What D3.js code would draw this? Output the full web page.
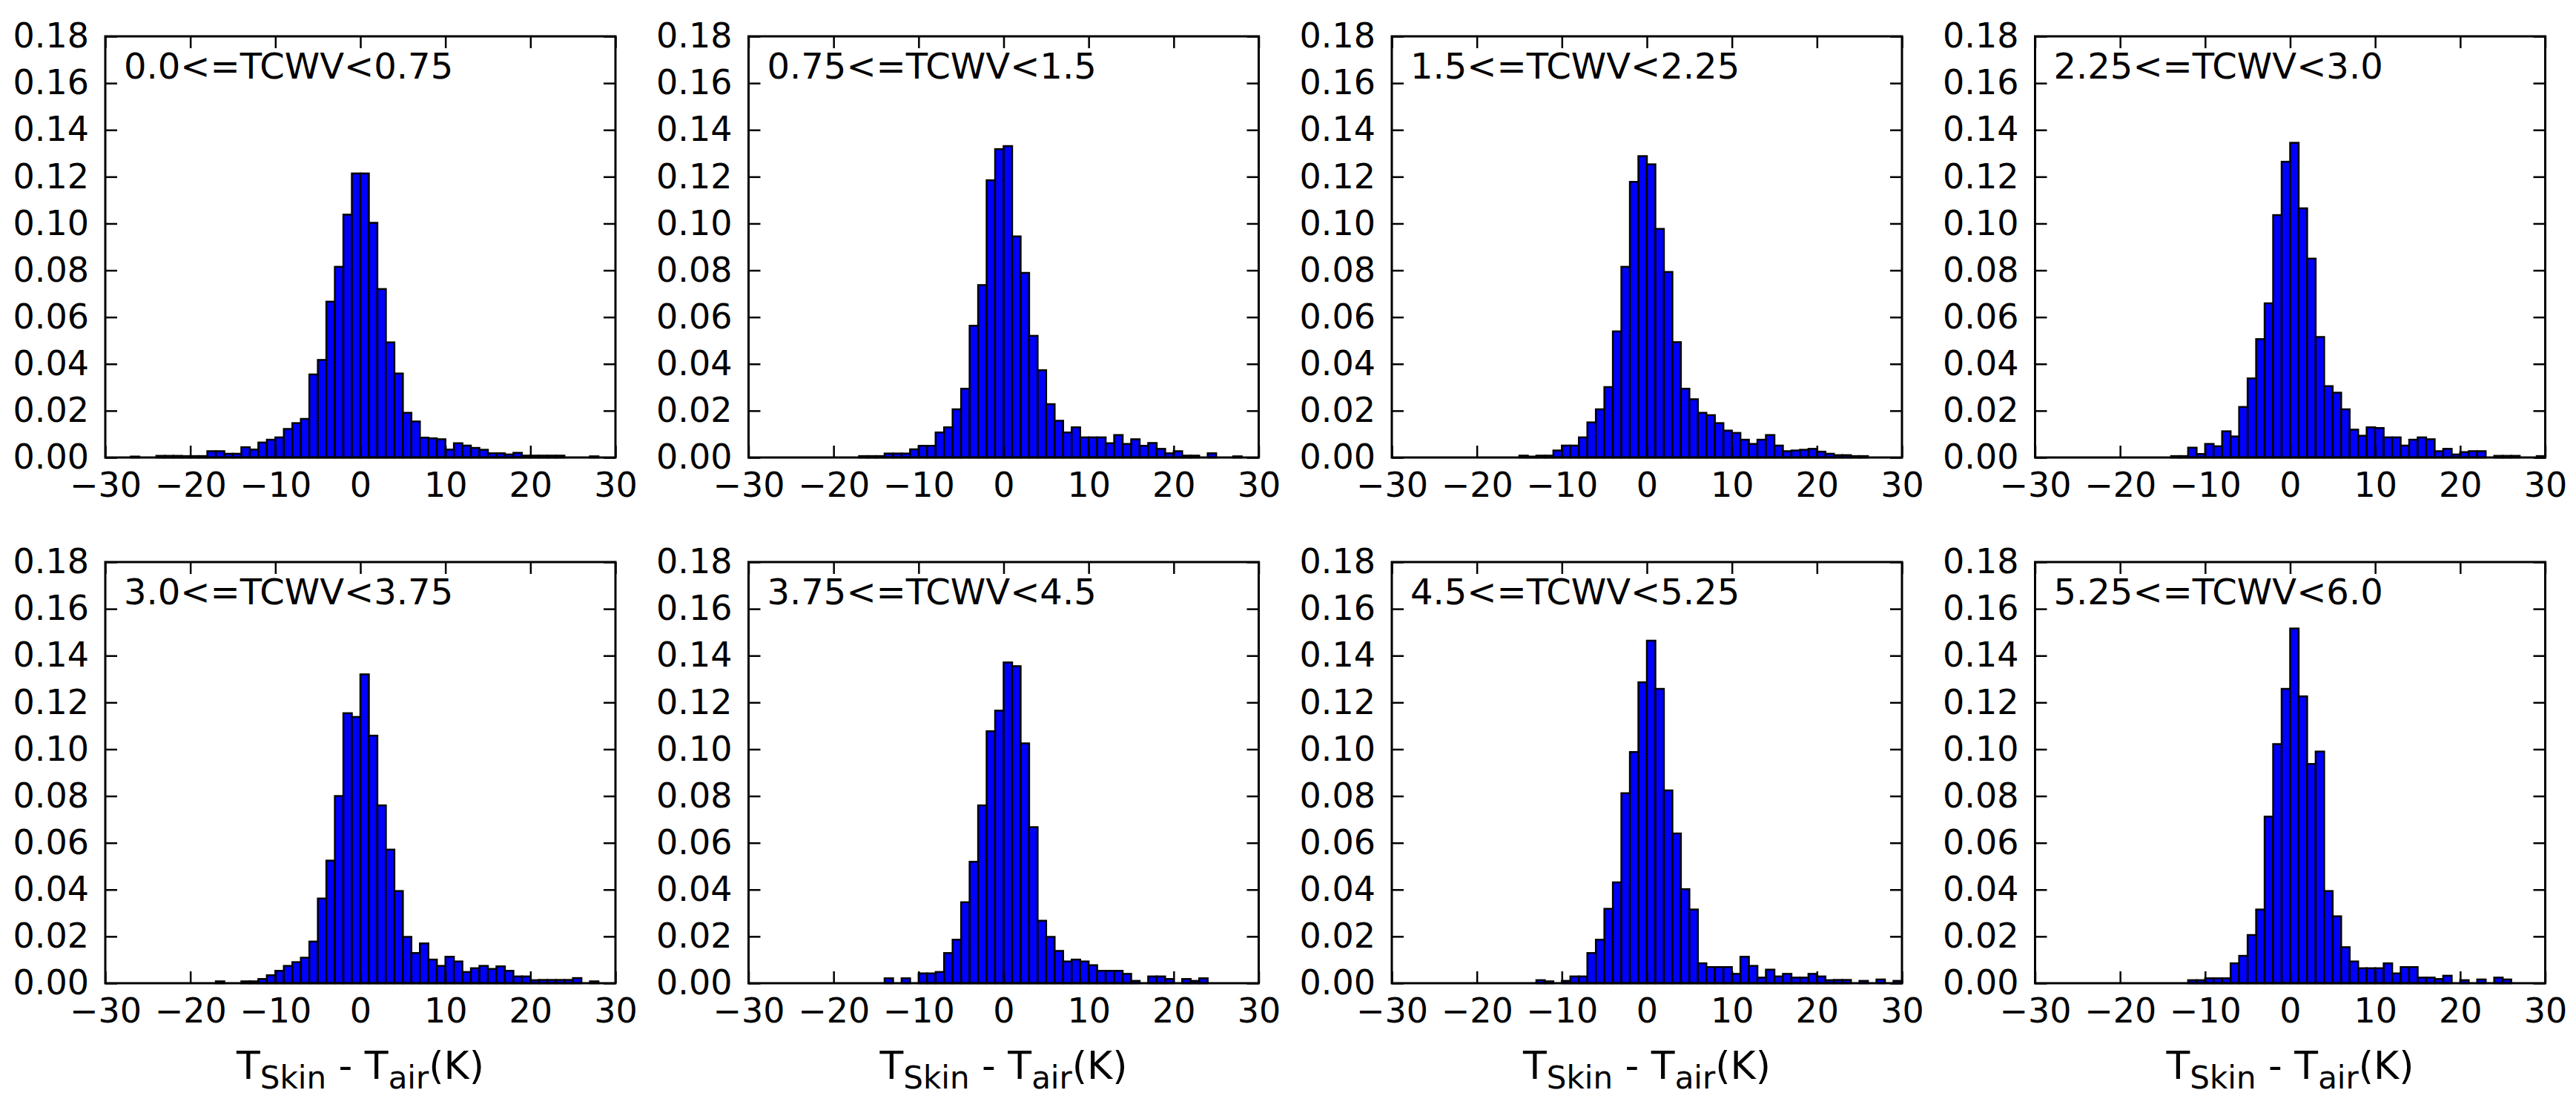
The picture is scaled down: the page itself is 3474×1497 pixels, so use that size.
<!DOCTYPE html>
<html>
<head>
<meta charset="utf-8">
<script src="https://cdn.jsdelivr.net/npm/d3@7"></script>
<style>
  html, body { margin: 0; padding: 0; background: #fff; }
  svg { display: block; }
</style>
</head>
<body>
<div id="chart"></div>
<script>
// histogram densities, one value per 1 K bin, bins start at -30 ... 29
const binLeft = d3.range(-30, 30);

const tcwv_0_075 = [
  0, 0, 0, 0.0004, 0, 0, 0.0007, 0.0007, 0.0007, 0.0006,
  0.0006, 0.0006, 0.0027, 0.0027, 0.0016, 0.0016, 0.0044, 0.0034, 0.0064, 0.0076,
  0.0086, 0.0122, 0.0147, 0.0165, 0.0355, 0.0417, 0.0666, 0.0815, 0.1038, 0.1214,
  0.1214, 0.1003, 0.0720, 0.0492, 0.0359, 0.0191, 0.0154, 0.0085, 0.0082, 0.0078,
  0.0034, 0.0061, 0.0051, 0.0041, 0.0033, 0.0018, 0.0018, 0.0013, 0.0020, 0.0008,
  0.0008, 0.0008, 0.0008, 0.0008, 0, 0, 0, 0.0005, 0, 0
];
const tcwv_075_15 = [
  0, 0, 0, 0, 0, 0, 0, 0, 0, 0,
  0, 0, 0, 0.0006, 0.0006, 0.0006, 0.0017, 0.0017, 0.0017, 0.0035,
  0.0050, 0.0050, 0.0107, 0.0129, 0.0206, 0.0294, 0.0563, 0.0737, 0.1185, 0.1318,
  0.1331, 0.0945, 0.0789, 0.0520, 0.0373, 0.0228, 0.0157, 0.0107, 0.0129, 0.0086,
  0.0086, 0.0086, 0.0061, 0.0096, 0.0058, 0.0078, 0.0050, 0.0062, 0.0037, 0.0018,
  0.0027, 0.0008, 0.0008, 0, 0.0018, 0, 0, 0.0005, 0, 0
];
const tcwv_15_225 = [
  0, 0, 0, 0, 0, 0, 0, 0, 0, 0,
  0, 0, 0, 0, 0, 0.0008, 0.0004, 0.0008, 0.0008, 0.0030,
  0.0051, 0.0051, 0.0086, 0.0150, 0.0206, 0.0301, 0.0539, 0.0815, 0.1178, 0.1288,
  0.1253, 0.0977, 0.0793, 0.0493, 0.0294, 0.0249, 0.0191, 0.0181, 0.0147, 0.0115,
  0.0105, 0.0076, 0.0058, 0.0076, 0.0096, 0.0051, 0.0027, 0.0030, 0.0033, 0.0037,
  0.0025, 0.0016, 0.0010, 0.0010, 0.0006, 0.0006, 0, 0, 0, 0
];
const tcwv_225_30 = [
  0, 0, 0, 0, 0, 0, 0, 0, 0, 0,
  0, 0, 0, 0, 0, 0, 0.0006, 0.0006, 0.0042, 0.0015,
  0.0058, 0.0048, 0.0112, 0.0090, 0.0216, 0.0338, 0.0506, 0.0659, 0.1036, 0.1264,
  0.1345, 0.1065, 0.0850, 0.0515, 0.0305, 0.0277, 0.0206, 0.0119, 0.0093, 0.0129,
  0.0126, 0.0086, 0.0086, 0.0051, 0.0076, 0.0086, 0.0078, 0.0027, 0.0037, 0.0013,
  0.0023, 0.0027, 0.0027, 0, 0.0007, 0.0007, 0.0007, 0, 0, 0.0006
];
const tcwv_30_375 = [
  0, 0, 0, 0, 0, 0, 0, 0, 0, 0,
  0, 0, 0, 0.0008, 0, 0, 0.0008, 0.0008, 0.0018, 0.0034,
  0.0053, 0.0074, 0.0090, 0.0109, 0.0178, 0.0362, 0.0524, 0.0800, 0.1154, 0.1138,
  0.1320, 0.1058, 0.0760, 0.0571, 0.0394, 0.0198, 0.0129, 0.0170, 0.0101, 0.0074,
  0.0113, 0.0093, 0.0048, 0.0064, 0.0074, 0.0061, 0.0072, 0.0053, 0.0029, 0.0029,
  0.0013, 0.0014, 0.0014, 0.0014, 0.0014, 0.0022, 0, 0.0008, 0, 0
];
const tcwv_375_45 = [
  0, 0, 0, 0, 0, 0, 0, 0, 0, 0,
  0, 0, 0, 0, 0, 0, 0.0021, 0, 0.0021, 0,
  0.0042, 0.0042, 0.0048, 0.0129, 0.0186, 0.0346, 0.0519, 0.0760, 0.1077, 0.1165,
  0.1371, 0.1355, 0.1025, 0.0667, 0.0267, 0.0198, 0.0138, 0.0093, 0.0101, 0.0093,
  0.0077, 0.0053, 0.0053, 0.0053, 0.0040, 0.0010, 0, 0.0029, 0.0029, 0.0018,
  0, 0.0018, 0.0010, 0.0021, 0, 0, 0, 0, 0, 0
];
const tcwv_45_525 = [
  0, 0, 0, 0, 0, 0, 0, 0, 0, 0,
  0, 0, 0, 0, 0, 0, 0, 0.0013, 0.0008, 0,
  0.0010, 0.0029, 0.0029, 0.0129, 0.0186, 0.0318, 0.0431, 0.0812, 0.0988, 0.1286,
  0.1464, 0.1258, 0.0824, 0.0640, 0.0402, 0.0315, 0.0085, 0.0069, 0.0069, 0.0069,
  0.0040, 0.0113, 0.0074, 0.0024, 0.0058, 0.0029, 0.0040, 0.0024, 0.0024, 0.0040,
  0.0029, 0.0013, 0.0014, 0.0014, 0, 0.0010, 0, 0.0016, 0, 0.0010
];
const tcwv_525_60 = [
  0, 0, 0, 0, 0, 0, 0, 0, 0, 0,
  0, 0, 0, 0, 0, 0, 0, 0, 0.0013, 0.0013,
  0.0021, 0.0021, 0.0021, 0.0085, 0.0117, 0.0206, 0.0315, 0.0712, 0.1022, 0.1258,
  0.1516, 0.1226, 0.0937, 0.0990, 0.0394, 0.0286, 0.0154, 0.0093, 0.0064, 0.0064,
  0.0064, 0.0085, 0.0042, 0.0069, 0.0069, 0.0024, 0.0024, 0.0018, 0.0032, 0,
  0.0013, 0, 0.0016, 0, 0.0024, 0.0016, 0, 0, 0, 0
];

const panelLabels = [
  "0.0<=TCWV<0.75", "0.75<=TCWV<1.5", "1.5<=TCWV<2.25", "2.25<=TCWV<3.0",
  "3.0<=TCWV<3.75", "3.75<=TCWV<4.5", "4.5<=TCWV<5.25", "5.25<=TCWV<6.0"
];
const panelValues = [
  tcwv_0_075, tcwv_075_15, tcwv_15_225, tcwv_225_30,
  tcwv_30_375, tcwv_375_45, tcwv_45_525, tcwv_525_60
];
const xTicks = [-30, -20, -10, 0, 10, 20, 30];
const yTicks = [0, 0.02, 0.04, 0.06, 0.08, 0.10, 0.12, 0.14, 0.16, 0.18];

const W = 3474, H = 1497;
const colLeft = [142, 1009.5, 1877, 2744.5];
const rowTop = [49, 758];
const pw = 688, ph = 568;
const font = "DejaVu Sans, Verdana, sans-serif";
const tickLen = 16;

const svg = d3.select("#chart").append("svg")
  .attr("width", W).attr("height", H)
  .attr("viewBox", `0 0 ${W} ${H}`);

const x = d3.scaleLinear().domain([-30, 30]).range([0, pw]);
const y = d3.scaleLinear().domain([0, 0.18]).range([ph, 0]);

panelValues.forEach((vals, i) => {
  const col = i % 4, row = Math.floor(i / 4);
  const g = svg.append("g")
    .attr("transform", `translate(${colLeft[col]},${rowTop[row]})`);

  const bins = binLeft.map((b, j) => ({ x0: b, x1: b + 1, v: vals[j] }))
    .filter(d => d.v > 0);

  g.append("g").selectAll("rect")
    .data(bins)
    .join("rect")
    .attr("x", d => x(d.x0))
    .attr("width", d => x(d.x1) - x(d.x0))
    .attr("y", d => y(d.v))
    .attr("height", d => y(0) - y(d.v))
    .attr("fill", "#0000ff")
    .attr("stroke", "#000")
    .attr("stroke-width", 2.5);

  // ticks point inward on all four sides
  const styleAxis = sel => {
    sel.select(".domain").remove();
    sel.selectAll(".tick line").attr("stroke", "#000").attr("stroke-width", 2.5);
    sel.selectAll(".tick text").attr("fill", "#000");
    sel.attr("font-family", font).attr("font-size", 46);
  };

  g.append("g").attr("transform", `translate(0,${ph})`)
    .call(d3.axisBottom(x).tickValues(xTicks).tickSizeInner(-tickLen).tickSizeOuter(0).tickPadding(20))
    .call(styleAxis);
  g.append("g")
    .call(d3.axisTop(x).tickValues(xTicks).tickSizeInner(-tickLen).tickSizeOuter(0).tickFormat(""))
    .call(styleAxis);
  g.append("g")
    .call(d3.axisLeft(y).tickValues(yTicks).tickSizeInner(-tickLen).tickSizeOuter(0).tickPadding(22)
      .tickFormat(d3.format(".2f")))
    .call(styleAxis);
  g.append("g").attr("transform", `translate(${pw},0)`)
    .call(d3.axisRight(y).tickValues(yTicks).tickSizeInner(-tickLen).tickSizeOuter(0).tickFormat(""))
    .call(styleAxis);

  g.append("rect")
    .attr("width", pw).attr("height", ph)
    .attr("fill", "none").attr("stroke", "#000").attr("stroke-width", 3);

  g.append("text")
    .attr("x", 25).attr("y", 57)
    .attr("font-family", font).attr("font-size", 48)
    .text(panelLabels[i]);

  if (row === 1) {
    const lab = g.append("text")
      .attr("x", pw / 2).attr("y", ph + 129)
      .attr("text-anchor", "middle")
      .attr("font-family", font).attr("font-size", 52);
    lab.append("tspan").text("T");
    lab.append("tspan").attr("font-size", 42).attr("dy", 13).text("Skin");
    lab.append("tspan").attr("dy", -13).text(" - T");
    lab.append("tspan").attr("font-size", 42).attr("dy", 13).text("air");
    lab.append("tspan").attr("dy", -13).text("(K)");
  }
});
</script>
</body>
</html>
